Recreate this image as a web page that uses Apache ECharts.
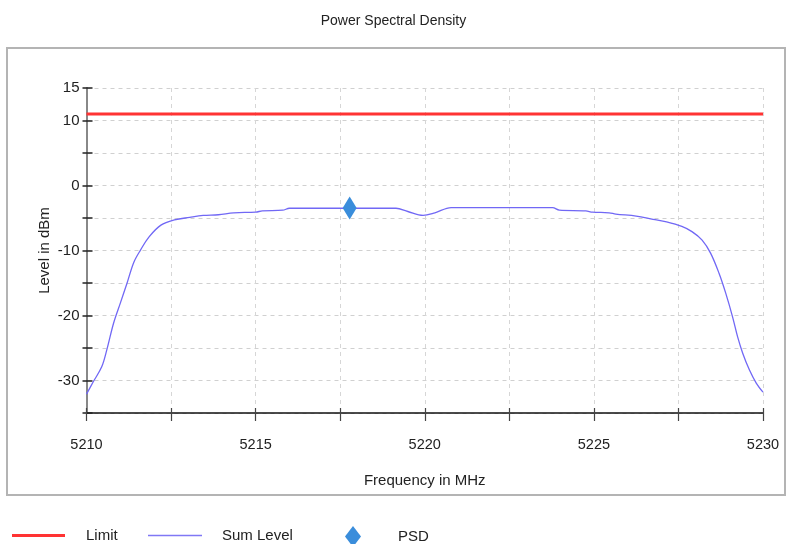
<!DOCTYPE html>
<html><head><meta charset="utf-8">
<script src="https://cdn.jsdelivr.net/npm/echarts@6/dist/echarts.min.js"></script>
<style>html,body{margin:0;padding:0;background:#fff}#c{width:787px;height:544px}</style>
</head><body><div id="c"></div>
<script>
const FONT = "'Liberation Sans',Arial,sans-serif";
const sumFreq = [5210, 5210.2, 5210.45, 5210.6, 5210.8, 5211.0, 5211.2, 5211.4, 5211.6, 5211.85, 5212.2, 5212.6, 5213.05, 5213.45, 5213.9, 5214.35, 5215.0, 5215.2, 5215.8, 5216.0, 5217.0, 5218.0, 5219.15, 5219.5, 5219.95, 5220.3, 5220.78, 5221.5, 5222.5, 5223.78, 5223.98, 5224.76, 5224.96, 5225.45, 5225.65, 5226.25, 5226.75, 5227.15, 5227.6, 5227.9, 5228.2, 5228.45, 5228.7, 5228.9, 5229.1, 5229.25, 5229.4, 5229.6, 5229.8, 5230];
const sumLevel = [-32.1, -30.2, -27.9, -25.3, -21.2, -18.1, -15.0, -11.8, -9.9, -7.9, -6.1, -5.3, -4.9, -4.6, -4.5, -4.2, -4.1, -3.9, -3.8, -3.5, -3.5, -3.5, -3.5, -4.0, -4.6, -4.2, -3.4, -3.4, -3.4, -3.4, -3.8, -3.9, -4.1, -4.2, -4.4, -4.7, -5.2, -5.6, -6.3, -7.1, -8.4, -10.4, -13.5, -16.6, -20.2, -23.3, -25.8, -28.4, -30.4, -31.8];
const limitFreq = [5210, 5230];
const limitLevel = [11, 11];
const psdFreq = [5217.78];
const psdLevel = [-3.45];
const yTickLabels = [15, 10, 0, -10, -20, -30];
const xTickLabels = [5210, 5215, 5220, 5225, 5230];

const zip = (a, b) => a.map((v, i) => [v, b[i]]);
const chart = echarts.init(document.getElementById('c'));
const grid = {left: 86.5, right: 24, top: 88, bottom: 131};
const xBase = {type: 'value', min: 5210, max: 5230, interval: 2.5, position: 'bottom'};
const yBase = {type: 'value', min: -35, max: 15, interval: 5, position: 'left'};
const legText = (pad) => ({fontFamily: FONT, fontSize: 15, color: '#222', padding: [0, 0, 0, pad]});
chart.setOption({
  backgroundColor: '#fff',
  animation: false,
  graphic: [{
    type: 'rect', z: -10, silent: true,
    shape: {x: 7, y: 48, width: 778, height: 447},
    style: {fill: '#fff', stroke: '#b4b4b4', lineWidth: 2}
  }],
  title: {
    text: 'Power Spectral Density', left: 'center', top: 9,
    textStyle: {fontFamily: FONT, fontSize: 14, fontWeight: 'normal', color: '#222'}
  },
  legend: [
    {data: ['Limit'], left: 7, top: 523, icon: 'rect', itemWidth: 53, itemHeight: 3,
     textStyle: legText(16)},
    {data: ['Sum Level'], left: 143, top: 523, icon: 'rect', itemWidth: 54, itemHeight: 1.5,
     textStyle: legText(15)},
    {data: ['PSD'], left: 340, top: 521, icon: 'diamond', itemWidth: 16, itemHeight: 21,
     textStyle: legText(32)}
  ],
  grid: grid,
  xAxis: [
    Object.assign({}, xBase, {
      name: 'Frequency in MHz', nameLocation: 'middle', nameGap: 60, nameMoveOverlap: false,
      nameTextStyle: {fontFamily: FONT, fontSize: 15, color: '#222'},
      axisLine: {show: true, onZero: false, lineStyle: {color: '#111', width: 1.5}},
      axisTick: {show: true, length: 8, lineStyle: {color: '#444', width: 1.2}},
      axisLabel: {margin: 24, fontFamily: FONT, fontSize: 14.5, color: '#222',
        formatter: v => xTickLabels.includes(v) ? String(v) : ''},
      splitLine: {show: true, lineStyle: {type: [4, 4], color: '#d6d6d6', width: 1}}
    }),
    Object.assign({}, xBase, {
      axisLine: {show: false, onZero: false}, axisLabel: {show: false}, splitLine: {show: false},
      axisTick: {show: true, inside: true, length: 5, lineStyle: {color: '#444', width: 1.2}}
    })
  ],
  yAxis: [
    Object.assign({}, yBase, {
      name: 'Level in dBm', nameLocation: 'middle', nameGap: 34, nameRotate: 90, nameMoveOverlap: false,
      nameTextStyle: {fontFamily: FONT, fontSize: 15, color: '#222'},
      axisLine: {show: true, onZero: false, lineStyle: {color: '#888', width: 2}},
      axisTick: {show: true, length: 4, lineStyle: {color: '#222', width: 1.5}},
      axisLabel: {margin: 7, fontFamily: FONT, fontSize: 15, color: '#222',
        formatter: v => yTickLabels.includes(v) ? String(v) : ''},
      splitLine: {show: true, lineStyle: {type: [4, 4], color: '#d0d0d0', width: 1}}
    }),
    Object.assign({}, yBase, {
      axisLine: {show: false, onZero: false}, axisLabel: {show: false}, splitLine: {show: false},
      axisTick: {show: true, inside: true, length: 6, lineStyle: {color: '#222', width: 1.5}}
    })
  ],
  series: [
    {name: 'Limit', type: 'line', symbol: 'none', data: zip(limitFreq, limitLevel),
     lineStyle: {color: '#ff3333', width: 3}, itemStyle: {color: '#ff3333'}, z: 3},
    {name: 'Sum Level', type: 'line', symbol: 'none', smooth: 0.35, data: zip(sumFreq, sumLevel),
     lineStyle: {color: '#7168f5', width: 1.3}, itemStyle: {color: '#8078f5'}, z: 3},
    {name: 'PSD', type: 'scatter', symbol: 'diamond', symbolSize: [14, 23],
     data: zip(psdFreq, psdLevel), itemStyle: {color: '#3a8ddb', opacity: 1}, z: 5}
  ]
});
</script></body></html>
